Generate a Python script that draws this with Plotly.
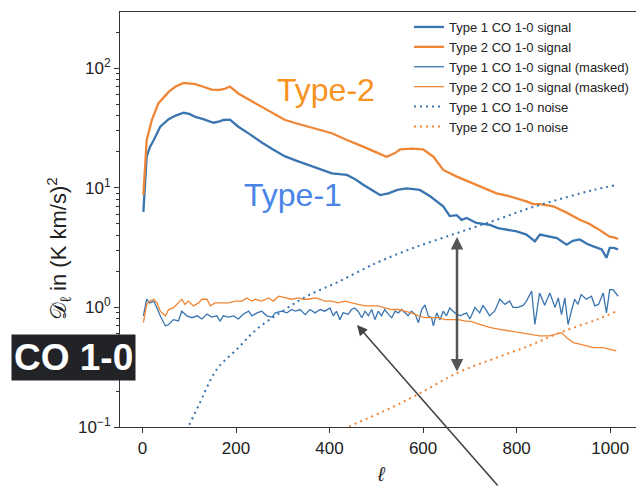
import plotly.graph_objects as go

# ---------------- data ----------------
ell_sig1 = [2, 9, 16, 24, 38, 56, 70, 88, 100, 113, 130, 152, 165, 173, 187, 195, 205, 230, 255, 280,
            305, 330, 355, 380, 405, 437, 455, 472, 490, 508, 526, 545, 565, 593, 615, 643, 657, 672, 682, 693,
            714, 743, 760, 779, 800, 821, 839, 850, 868, 886, 907, 920, 935, 950, 964, 982, 992, 999, 1008, 1017]
sig1 = [6.3, 18.2, 22, 25, 32.4, 37.5, 40, 42.4, 41.5, 39.2, 37.5, 35, 36, 36.9, 37.2, 35, 32.4, 28, 23.9, 20.8,
        18.3, 16.8, 15.5, 14.2, 13.2, 12.8, 11.8, 10.6, 9.6, 8.7, 9.0, 9.6, 9.9, 9.6, 8.5, 7.0, 5.8, 5.9, 5.4, 5.6,
        5.08, 4.9, 4.6, 4.47, 4.32, 4.06, 3.57, 4.06, 3.9, 3.8, 3.35, 3.6, 3.7, 3.4, 3.24, 3.05, 2.6, 3.14, 3.15, 3.05]

ell_sig2 = [2, 9, 20, 34, 56, 70, 88, 100, 113, 130, 148, 165, 177, 187, 195, 205, 230, 255, 280, 305,
            330, 355, 380, 405, 437, 455, 472, 500, 522, 540, 551, 575, 600, 622, 643, 672, 690, 714, 735, 757,
            780, 800, 821, 835, 850, 878, 907, 935, 955, 971, 985, 999, 1008, 1017]
sig2 = [8.7, 25, 36.9, 50.8, 63.3, 70, 75.4, 75, 73.6, 70, 66.2, 66, 67.6, 70.3, 66, 61.5, 54, 47.6, 41.5, 36.9,
        34.5, 32.4, 30.5, 28.6, 25.1, 23.6, 22.1, 19.8, 18.2, 19.5, 21.0, 21.3, 21.0, 18.2, 14.1, 12.4, 11.6, 10.6, 9.8, 9.0,
        8.6, 8.2, 7.7, 7.3, 7.3, 7.0, 6.2, 5.4, 5.0, 4.6, 4.2, 3.9, 3.85, 3.73]

ell_mask1 = [2, 9, 16, 24, 31, 38, 49, 56, 66, 77, 84, 95, 106, 117, 127, 138, 148, 159, 166, 173,
             184, 195, 205, 216, 227, 234, 245, 255, 266, 277, 284, 298, 309, 319, 327, 337, 348, 358, 369, 380,
             390, 401, 408, 415, 422, 429, 440, 447, 454, 461, 469, 476, 483, 490, 497, 504, 511, 518, 526, 533,
             540, 547, 554, 561, 568, 575, 583, 590, 597, 604, 611, 618, 622, 629, 636, 643, 650, 657, 668, 679,
             693, 700, 711, 721, 728, 735, 742, 753, 764, 775, 785, 792, 803, 814, 821, 832, 839, 849, 860, 871,
             882, 889, 896, 903, 910, 917, 924, 931, 938, 949, 960, 967, 975, 985, 992, 999, 1006, 1017]
mask1 = [0.85, 1.17, 1.09, 1.13, 0.99, 0.85, 0.70, 0.72, 0.79, 0.77, 0.93, 0.85, 0.82, 0.85, 0.80, 0.88, 0.83, 0.85, 0.77, 0.85,
         0.83, 0.85, 0.80, 0.88, 0.93, 0.85, 0.90, 0.93, 0.85, 0.83, 0.90, 0.93, 0.90, 0.96, 0.93, 0.96, 0.87, 0.96, 0.90, 0.96,
         0.93, 0.99, 0.85, 0.93, 0.79, 0.90, 0.875, 0.96, 0.99, 0.93, 0.82, 0.93, 0.85, 0.96, 0.79, 0.93, 0.85, 0.96, 0.875, 0.82,
         0.93, 0.90, 0.96, 0.90, 0.85, 0.93, 0.875, 0.745, 0.96, 1.05, 0.85, 0.82, 0.70, 0.90, 0.79, 0.93, 0.85, 0.99, 0.90, 0.85,
         0.90, 0.80, 1.0, 0.90, 1.04, 0.95, 0.85, 0.93, 1.17, 1.06, 1.13, 1.0, 1.0, 1.04, 1.13, 1.37, 0.72, 1.32, 1.04, 1.32,
         1.0, 1.2, 0.87, 1.2, 0.72, 0.93, 1.17, 1.06, 1.28, 1.17, 1.24, 1.03, 1.06, 1.32, 0.90, 1.41, 1.41, 1.24]

ell_mask2 = [2, 9, 16, 24, 31, 38, 49, 56, 66, 73, 84, 91, 98, 109, 120, 127, 138, 145, 155, 170,
             184, 198, 213, 223, 234, 241, 255, 270, 280, 291, 305, 319, 334, 344, 355, 369, 380, 390, 404, 418,
             433, 447, 461, 476, 490, 504, 518, 533, 547, 561, 575, 590, 604, 618, 632, 647, 661, 675, 689, 704,
             721, 742, 764, 785, 807, 828, 849, 871, 885, 896, 907, 921, 935, 949, 964, 985, 999, 1013]
mask2 = [0.745, 1.06, 1.13, 1.17, 1.09, 0.93, 0.85, 0.96, 0.99, 1.06, 1.17, 1.06, 1.13, 1.03, 1.09, 1.17, 1.17, 1.03, 1.09, 1.09,
         1.09, 1.13, 1.13, 1.2, 1.13, 1.17, 1.13, 1.2, 1.13, 1.24, 1.2, 1.17, 1.2, 1.17, 1.17, 1.2, 1.17, 1.13, 1.13, 1.09,
         1.13, 1.09, 1.06, 1.03, 1.03, 1.03, 0.99, 0.96, 0.96, 0.93, 0.90, 0.85, 0.82, 0.82, 0.82, 0.79, 0.79, 0.79, 0.77, 0.76,
         0.72, 0.68, 0.656, 0.635, 0.615, 0.596, 0.577, 0.577, 0.596, 0.615, 0.558, 0.508, 0.492, 0.476, 0.461, 0.461, 0.447, 0.433]

ell_noise1 = [90, 98, 120, 159, 202, 244, 294, 351, 415, 479, 508, 579, 673, 757, 828, 900, 964, 1017]
noise1 = [0.085, 0.1, 0.151, 0.304, 0.447, 0.656, 0.90, 1.24, 1.61, 2.15, 2.43, 3.14, 4.19, 5.4, 6.77, 8.2, 9.6, 10.6]

ell_noise2 = [420, 440, 515, 586, 675, 757, 828, 892, 971, 1014]
noise2 = [0.09, 0.1, 0.135, 0.185, 0.285, 0.38, 0.48, 0.615, 0.79, 0.93]

names = ["Type 1 CO 1-0 signal", "Type 2 CO 1-0 signal",
         "Type 1 CO 1-0 signal (masked)", "Type 2 CO 1-0 signal (masked)",
         "Type 1 CO 1-0 noise", "Type 2 CO 1-0 noise"]

x_ticks = [0, 200, 400, 600, 800, 1000]
y_ticks = [0.1, 1, 10, 100]
y_ticktext = ["10<sup>−1</sup>", "10<sup>0</sup>", "10<sup>1</sup>", "10<sup>2</sup>"]
y_minor = [m * d for d in (0.1, 1, 10) for m in range(2, 10)] + [200]

# ---------------- figure ----------------
BLUE = "#3a75b0"
ORANGE = "#ef8636"
FONT = "Liberation Sans, Arial, Helvetica, sans-serif"

OFF = 8                      # the page body has an 8px margin
W, H = 644 - OFF, 487 - OFF  # figure fills the rest of the window
# plot area in window pixels: left 120, right 642, top 12, bottom 427
ML, MR, MT, MB = 120 - OFF, W - (642 - OFF), 12 - OFF, H - (427 - OFF)
PW, PH = W - ML - MR, H - MT - MB


def px(x):
    """window x pixel -> paper coordinate"""
    return (x - OFF - ML) / PW


def py(y):
    """window y pixel -> paper coordinate"""
    return (H - MB - (y - OFF)) / PH


fig = go.Figure()
fig.add_trace(go.Scatter(x=ell_sig1, y=sig1, mode="lines", name=names[0],
                         line=dict(color=BLUE, width=2.3)))
fig.add_trace(go.Scatter(x=ell_sig2, y=sig2, mode="lines", name=names[1],
                         line=dict(color=ORANGE, width=2.3)))
fig.add_trace(go.Scatter(x=ell_mask1, y=mask1, mode="lines", name=names[2],
                         line=dict(color=BLUE, width=1.3)))
fig.add_trace(go.Scatter(x=ell_mask2, y=mask2, mode="lines", name=names[3],
                         line=dict(color=ORANGE, width=1.3)))
fig.add_trace(go.Scatter(x=ell_noise1, y=noise1, mode="lines", name=names[4],
                         line=dict(color=BLUE, width=2, dash="2px,4px", shape="spline")))
fig.add_trace(go.Scatter(x=ell_noise2, y=noise2, mode="lines", name=names[5],
                         line=dict(color=ORANGE, width=2, dash="2px,4px", shape="spline")))

annotations = [
    dict(text="Type-2", x=px(325.5), y=py(90), xref="paper", yref="paper", showarrow=False,
         font=dict(size=32, color="#f7931e", family=FONT), xanchor="center", yanchor="middle"),
    dict(text="Type-1", x=px(293), y=py(195), xref="paper", yref="paper", showarrow=False,
         font=dict(size=32, color="#4a86e8", family=FONT), xanchor="center", yanchor="middle"),
    dict(text="<b>CO 1-0</b>", x=px(73), y=py(357.5), xref="paper", yref="paper", showarrow=False,
         font=dict(size=37, color="white", family=FONT), bgcolor="#222326", borderpad=2,
         xanchor="center", yanchor="middle"),
    dict(text="𝒟<sub>ℓ</sub> in (K km/s)<sup>2</sup>", x=px(58), y=py(249), xref="paper", yref="paper",
         showarrow=False, textangle=-90, font=dict(size=22, color="#222", family=FONT),
         xanchor="center", yanchor="middle"),
    dict(text="<i>ℓ</i>", x=px(381), y=py(474), xref="paper", yref="paper", showarrow=False,
         font=dict(size=20, color="#222", family=FONT), xanchor="center", yanchor="middle"),
    # double arrow between signal and noise
    dict(text="", x=px(457), y=py(237), xref="paper", yref="paper", showarrow=True,
         ax=0, ay=136, arrowhead=2, startarrowhead=2, arrowside="end+start", arrowsize=1,
         arrowwidth=2.5, arrowcolor="#555555", standoff=0, startstandoff=0),
    # diagonal arrow pointing to the masked signal
    dict(text="", x=px(357), y=py(325), xref="paper", yref="paper", showarrow=True,
         ax=142, ay=165, arrowhead=2, arrowsize=1.3, arrowwidth=1.6, arrowcolor="#444444",
         standoff=0),
]

fig.update_layout(
    width=W, height=H,
    margin=dict(l=ML, r=MR, t=MT, b=MB, autoexpand=False),
    paper_bgcolor="white", plot_bgcolor="white",
    font=dict(family=FONT, color="#222"),
    showlegend=True,
    legend=dict(x=px(409), y=py(12), xanchor="left", yanchor="top",
                bgcolor="rgba(255,255,255,0)", font=dict(size=13, color="#222", family=FONT),
                itemwidth=30, tracegroupgap=0),
    annotations=annotations,
    xaxis=dict(range=[-48, 1068], tickvals=x_ticks, ticks="outside", ticklen=5, tickwidth=1,
               tickcolor="#333", showline=True, linecolor="#333", linewidth=1.2, mirror=True,
               showgrid=False, zeroline=False, tickfont=dict(size=17, color="#222"),
               automargin=False),
    yaxis=dict(type="log", range=[-1, 2.47], tickvals=y_ticks, ticktext=y_ticktext,
               ticks="outside", ticklen=5, tickwidth=1, tickcolor="#333",
               showline=True, linecolor="#333", linewidth=1.2, mirror=True,
               showgrid=False, zeroline=False, tickfont=dict(size=17, color="#222"),
               automargin=False,
               minor=dict(tickvals=y_minor, ticks="outside", ticklen=3, tickwidth=0.8,
                          tickcolor="#333", showgrid=False)),
)

fig.write_html("out.html")
